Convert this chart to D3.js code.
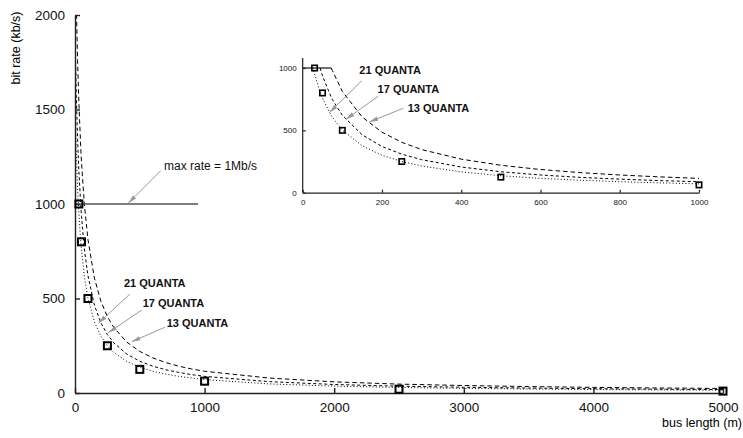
<!DOCTYPE html>
<html>
<head>
<meta charset="utf-8">
<script src="https://cdn.jsdelivr.net/npm/d3@7"></script>
<style>
  body { margin: 0; background: #fff; }
  text { font-family: "Liberation Sans", Arial, sans-serif; }
</style>
</head>
<body>
<div id="chart"></div>
<script>
// bus length (m) at which each curve was read
const lengths = [0, 10, 20, 26, 30, 44, 50, 72, 75, 100, 150, 200, 250, 300, 400, 500, 600, 700, 800, 900, 1000,
                 1500, 2000, 2500, 3000, 3500, 4000, 4500, 5000];
// bit rate (kb/s)
const rate13 = [2480, 2058, 1758, 1620, 1535, 1302, 1223, 1000, 979, 812, 607, 485, 404, 346, 269, 220, 186, 161, 142, 127, 115,
                79, 59, 47, 39.6, 34, 29.8, 26.5, 24];
const rate17 = [1898, 1574, 1345, 1237, 1173, 1000, 935, 765, 746, 621, 464, 371, 309, 265, 206, 168, 142, 123, 109, 97, 88,
                60, 45, 36, 30.3, 26, 22.8, 20.3, 18.3];
const rate21 = [1536, 1274, 1088, 1000, 950, 805, 757, 619, 604, 502, 376, 300, 250, 214, 167, 136, 115, 100, 88, 79, 71,
                48, 36.4, 29.3, 24.5, 21, 18.4, 16.4, 14.8];
// measured points (squares)
const measLength = [30, 50, 100, 250, 500, 1000, 2500, 5000];
const measRate = [1000, 800, 500, 250, 125, 62.5, 20, 10];

const seriesNames = ["13 QUANTA", "17 QUANTA", "21 QUANTA"];
const maxRate = 1000;
const mainTicksX = [0, 1000, 2000, 3000, 4000, 5000];
const mainTicksY = [0, 500, 1000, 1500, 2000];
const insetTicksX = [0, 200, 400, 600, 800, 1000];
const insetTicksY = [0, 500, 1000];

function init() {
    const width = 743, height = 438;
    const svg = d3.select("#chart").append("svg")
        .attr("width", width).attr("height", height);
    const fmt = d3.format("d");

    // arrow head
    svg.append("defs").append("marker")
        .attr("id", "arr")
        .attr("viewBox", "0 -3 9 6")
        .attr("refX", 9).attr("refY", 0)
        .attr("markerWidth", 9).attr("markerHeight", 6)
        .attr("markerUnits", "userSpaceOnUse")
        .attr("orient", "auto")
        .append("path").attr("d", "M0,-2.2L9,0L0,2.2Z").attr("fill", "#999");

    const series = [
        { name: seriesNames[0], values: rate13, dash: "4.5,3" },
        { name: seriesNames[1], values: rate17, dash: "3,2.5" },
        { name: seriesNames[2], values: rate21, dash: "1,2.2" }
    ];

    // ---------- main chart ----------
    const x = d3.scaleLinear().domain([0, 5000]).range([75, 723]);
    const y = d3.scaleLinear().domain([0, 2000]).range([393, 15]);

    svg.append("clipPath").attr("id", "clipMain")
        .append("rect").attr("x", 75).attr("y", 15).attr("width", 650).attr("height", 378);

    const line = d3.line().x(d => x(d[0])).y(d => y(d[1]));
    const gMain = svg.append("g").attr("clip-path", "url(#clipMain)");
    series.forEach(s => {
        gMain.append("path")
            .attr("d", line(lengths.map((l, i) => [l, s.values[i]])))
            .attr("fill", "none").attr("stroke", "#000")
            .attr("stroke-width", 1).attr("stroke-dasharray", s.dash);
    });

    // max rate line
    svg.append("line")
        .attr("x1", x(0)).attr("x2", x(950))
        .attr("y1", y(maxRate)).attr("y2", y(maxRate))
        .attr("stroke", "#555").attr("stroke-width", 1.5);

    // axes
    const xAxis = svg.append("g").attr("transform", "translate(0,393)")
        .call(d3.axisBottom(x).tickValues(mainTicksX).tickFormat(fmt)
            .tickSizeInner(-5).tickSizeOuter(0).tickPadding(9));
    const yAxis = svg.append("g").attr("transform", "translate(75,0)")
        .call(d3.axisLeft(y).tickValues(mainTicksY).tickFormat(fmt)
            .tickSizeInner(-5).tickSizeOuter(0).tickPadding(10));
    [xAxis, yAxis].forEach(a => {
        a.selectAll("path, line").attr("stroke", "#222").attr("stroke-width", 1.4);
        a.selectAll("text").attr("font-size", 13.5).attr("fill", "#111");
    });

    // squares
    svg.selectAll(".msq").data(measLength).enter().append("rect")
        .attr("x", (d) => x(d) - 3.5).attr("y", (d, i) => y(measRate[i]) - 3.5)
        .attr("width", 7).attr("height", 7)
        .attr("fill", "none").attr("stroke", "#000").attr("stroke-width", 2);

    // axis titles
    svg.append("text").attr("transform", "translate(20,48) rotate(-90)")
        .attr("text-anchor", "middle").attr("font-size", 12.5).text("bit rate (kb/s)");
    svg.append("text").attr("x", 742).attr("y", 427)
        .attr("text-anchor", "end").attr("font-size", 12.5).text("bus length (m)");

    // annotations (data units)
    const mainNotes = [
        { text: "max rate = 1Mb/s", lx: 687, ly: 1201, tail: [661, 1176], tip: [411, 1004], bold: false },
        { text: seriesNames[2], lx: 378, ly: 582, tail: [424, 524], tip: [180, 369], bold: true },
        { text: seriesNames[1], lx: 522, ly: 475, tail: [515, 439], tip: [257, 319], bold: true },
        { text: seriesNames[0], lx: 708, ly: 369, tail: [694, 348], tip: [437, 271], bold: true }
    ];
    drawNotes(svg, mainNotes, x, y);

    // ---------- inset ----------
    const xi = d3.scaleLinear().domain([0, 1000]).range([302.7, 699]);
    const yi = d3.scaleLinear().domain([0, 1000]).range([192.7, 68]);

    const lineI = d3.line().x(d => xi(d[0])).y(d => yi(d[1]));
    series.forEach(s => {
        const pts = lengths.map((l, i) => [l, s.values[i]])
            .filter(d => d[1] <= maxRate && d[0] <= 1000);
        svg.append("path")
            .attr("d", lineI(pts))
            .attr("fill", "none").attr("stroke", "#000")
            .attr("stroke-width", 1).attr("stroke-dasharray", s.dash);
    });

    svg.append("line")
        .attr("x1", xi(0)).attr("x2", xi(72))
        .attr("y1", yi(maxRate)).attr("y2", yi(maxRate))
        .attr("stroke", "#111").attr("stroke-width", 1.2);

    const xAxisI = svg.append("g").attr("transform", "translate(0,192.7)")
        .call(d3.axisBottom(xi).tickValues(insetTicksX).tickFormat(fmt)
            .tickSizeInner(-3).tickSizeOuter(0).tickPadding(7));
    const yAxisI = svg.append("g").attr("transform", "translate(302.7,0)")
        .call(d3.axisLeft(yi).tickValues(insetTicksY).tickFormat(fmt)
            .tickSizeInner(-3).tickSizeOuter(0).tickPadding(6));
    yAxisI.select(".domain").attr("d", `M0,${yi(0)}V${yi(1080)}`);
    [xAxisI, yAxisI].forEach(a => {
        a.selectAll("path, line").attr("stroke", "#222").attr("stroke-width", 1.2);
        a.selectAll("text").attr("font-size", 8).attr("fill", "#111");
    });

    svg.selectAll(".isq").data(measLength.filter(d => d <= 1000)).enter().append("rect")
        .attr("x", (d) => xi(d) - 2.7).attr("y", (d, i) => yi(measRate[i]) - 2.7)
        .attr("width", 5.4).attr("height", 5.4)
        .attr("fill", "none").attr("stroke", "#000").attr("stroke-width", 1.6);

    const insetNotes = [
        { text: seriesNames[2], lx: 143, ly: 984, tail: [149, 898], tip: [67, 641], bold: true },
        { text: seriesNames[1], lx: 189, ly: 829, tail: [191, 775], tip: [109, 588], bold: true },
        { text: seriesNames[0], lx: 265, ly: 677, tail: [254, 677], tip: [168, 567], bold: true }
    ];
    drawNotes(svg, insetNotes, xi, yi);
}

function drawNotes(svg, notes, xs, ys) {
    notes.forEach(n => {
        svg.append("line")
            .attr("x1", xs(n.tail[0])).attr("y1", ys(n.tail[1]))
            .attr("x2", xs(n.tip[0])).attr("y2", ys(n.tip[1]))
            .attr("stroke", "#999").attr("stroke-width", 1)
            .attr("marker-end", "url(#arr)");
        svg.append("text")
            .attr("x", xs(n.lx)).attr("y", ys(n.ly)).attr("dy", "0.35em")
            .attr("font-size", n.bold ? 11 : 12)
            .attr("font-weight", n.bold ? "bold" : "normal")
            .attr("fill", "#111")
            .text(n.text);
    });
}
window.onload = init;
</script>
</body>
</html>
